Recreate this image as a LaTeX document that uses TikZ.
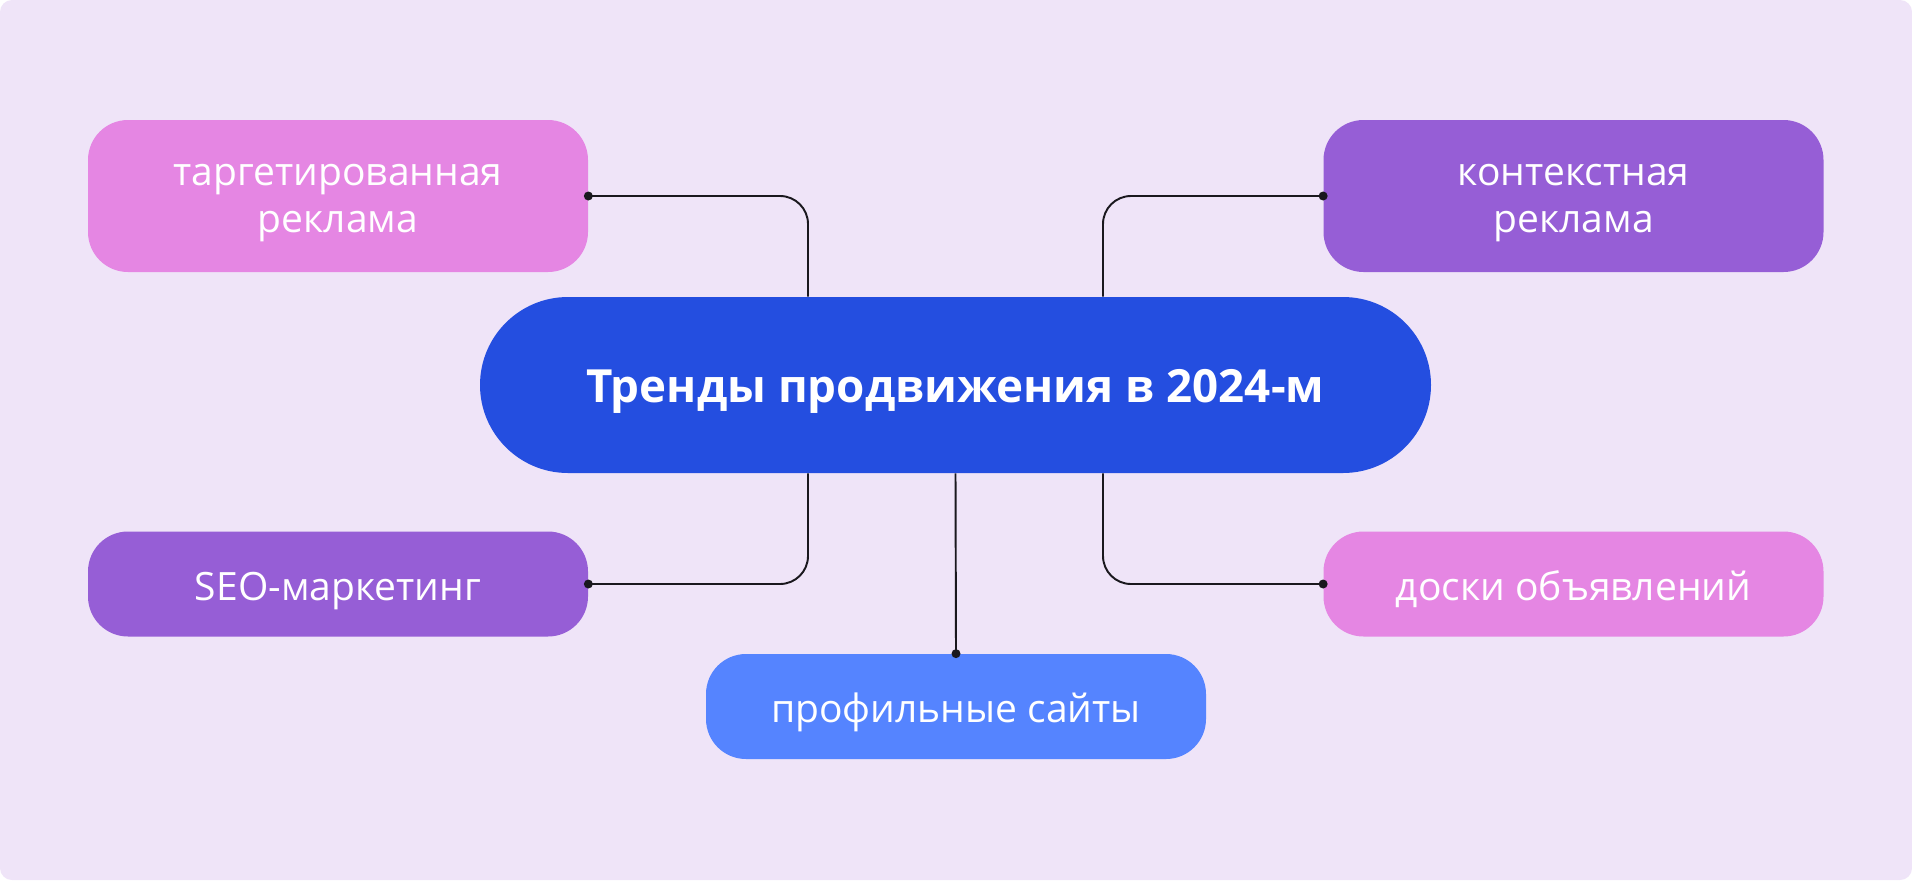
\documentclass[tikz,border=0pt]{standalone}
\usepackage{fontspec}
\setmainfont{Open Sans}
\usetikzlibrary{calc}
\definecolor{pagefill}{RGB}{239, 228, 248}
\definecolor{pinkbox}{RGB}{229, 134, 227}
\definecolor{violetbox}{RGB}{150, 94, 214}
\definecolor{trendblue}{RGB}{36, 78, 224}
\definecolor{siteblue}{RGB}{85, 132, 255}
\definecolor{linkcol}{RGB}{26, 24, 30}
\tikzset{
    topicbox/.style={rounded corners=.8cm, minimum width=10cm,
        text=white, align=center, font=\fontsize{22.2}{26.2}\selectfont,
        inner sep=0pt, text depth=.2cm},
    tallbox/.style={topicbox, minimum height=3.04cm, text height=1.64cm},
    flatbox/.style={topicbox, minimum height=2.1cm, text height=.84cm},
    link/.style={linkcol, line width=1.1pt, rounded corners=.56cm},
    linkdot/.style={fill=linkcol},
}

\begin{document}
\begin{tikzpicture}
        \useasboundingbox (0, 0) rectangle (38.24, -17.6);
        \fill[white] (0, 0) rectangle (38.24, -17.6);
        \fill[pagefill, rounded corners=.24cm] (0, 0) rectangle (38.24, -17.6);
        % central topic
        \node[fill=trendblue, rounded corners=1.76cm, minimum width=19.02cm,
            minimum height=3.52cm, text=white, text height=.88cm,
            text depth=.2cm, font=\bfseries\fontsize{26}{28}\selectfont]
            (trend) at (19.11, -7.70) {Тренды продвижения в 2024-м};
        \node[tallbox, fill=pinkbox] (target) at (6.76, -3.92)
            {таргетированная\\реклама};
        \node[tallbox, fill=violetbox] (context) at (31.47, -3.92)
            {контекстная\\реклама};
        \node[flatbox, fill=violetbox] (seo) at (6.76, -11.68) {SEO-маркетинг};
        \node[flatbox, fill=pinkbox] (boards) at (31.47, -11.68)
            {доски объявлений};
        \node[flatbox, fill=siteblue] (sites) at (19.12, -14.13)
            {профильные сайты};
        \draw[link] (target.east) -| ([xshift=-2.95cm]trend.north);
        \draw[link] (context.west) -| ([xshift=2.95cm]trend.north);
        \draw[link] (seo.east) -| ([xshift=-2.95cm]trend.south);
        \draw[link] (boards.west) -| ([xshift=2.95cm]trend.south);
        \draw[link] (trend.south) -- (sites.north);
        \foreach \spot in {target.east, context.west, seo.east, boards.west,
                sites.north}
            \fill[linkdot] (\spot) circle (.09cm);
    \end{tikzpicture}
\end{document}
